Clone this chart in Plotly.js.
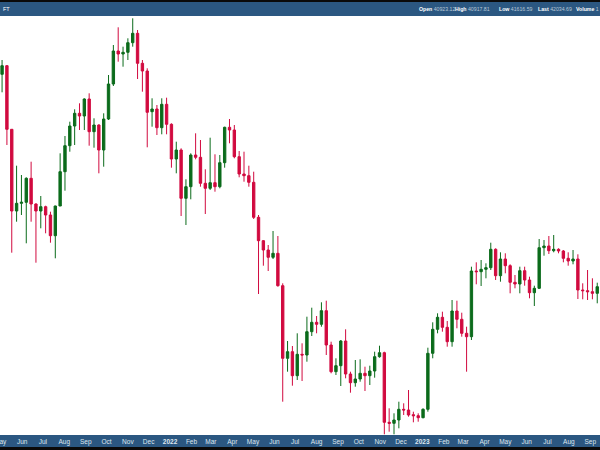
<!DOCTYPE html>
<html><head><meta charset="utf-8">
<script src="https://cdn.plot.ly/plotly-3.0.1.min.js"></script>
<style>html,body{margin:0;padding:0;background:#fff}#chart{width:600px;height:450px}</style>
</head><body><div id="chart"></div>
<script>
const weeks = [
"2021-05-03","2021-05-10","2021-05-17","2021-05-24","2021-05-31","2021-06-07","2021-06-14","2021-06-21","2021-06-28",
"2021-07-05","2021-07-12","2021-07-19","2021-07-26","2021-08-02","2021-08-09","2021-08-16","2021-08-23","2021-08-30",
"2021-09-06","2021-09-13","2021-09-20","2021-09-27","2021-10-04","2021-10-11","2021-10-18","2021-10-25",
"2021-11-01","2021-11-08","2021-11-15","2021-11-22","2021-11-29","2021-12-06","2021-12-13","2021-12-20","2021-12-27",
"2022-01-03","2022-01-10","2022-01-17","2022-01-24","2022-01-31","2022-02-07","2022-02-14","2022-02-21","2022-02-28",
"2022-03-07","2022-03-14","2022-03-21","2022-03-28","2022-04-04","2022-04-11","2022-04-18","2022-04-25",
"2022-05-02","2022-05-09","2022-05-16","2022-05-23","2022-05-30","2022-06-06","2022-06-13","2022-06-20","2022-06-27",
"2022-07-04","2022-07-11","2022-07-18","2022-07-25","2022-08-01","2022-08-08","2022-08-15","2022-08-22","2022-08-29",
"2022-09-05","2022-09-12","2022-09-19","2022-09-26","2022-10-03","2022-10-10","2022-10-17","2022-10-24","2022-10-31",
"2022-11-07","2022-11-14","2022-11-21","2022-11-28","2022-12-05","2022-12-12","2022-12-19","2022-12-26",
"2023-01-02","2023-01-09","2023-01-16","2023-01-23","2023-01-30","2023-02-06","2023-02-13","2023-02-20","2023-02-27",
"2023-03-06","2023-03-13","2023-03-20","2023-03-27","2023-04-03","2023-04-10","2023-04-17","2023-04-24",
"2023-05-01","2023-05-08","2023-05-15","2023-05-22","2023-05-29","2023-06-05","2023-06-12","2023-06-19","2023-06-26",
"2023-07-03","2023-07-10","2023-07-17","2023-07-24","2023-07-31","2023-08-07","2023-08-14","2023-08-21","2023-08-28",
"2023-09-04","2023-09-11"];

const openV = [3757,3843,3207,2390,2467,2477,2717,2460,2390,2433,2350,2143,2440,2783,3043,3240,3367,3340,3510,3183,
3250,3000,3310,3660,3990,3960,3977,4073,4167,3867,3790,3383,3410,3223,3457,3257,2910,3000,2517,2633,
2950,2927,2667,2617,2673,2633,2873,3227,3200,2933,2760,2743,2677,2327,2093,2000,1927,1967,1643,917,
983,743,957,950,1183,1277,1257,1393,1050,783,843,1090,760,673,710,767,743,790,933,973,
277,267,300,407,400,353,343,323,407,967,1207,1327,1227,1083,1390,1307,1167,1133,1790,1783,
1807,1823,2007,1743,1910,1843,1677,1660,1793,1700,1573,1617,2023,2040,1993,2007,1990,1917,1890,1910,
1600,1593,1583,1567];
const highV = [3900,3850,3210,2843,2750,2727,2883,2467,2540,2443,2383,2443,2967,3140,3283,3407,3467,3517,3567,3317,
3257,3367,3750,4050,4227,4033,4117,4317,4200,3900,3817,3517,3450,3517,3523,3267,3083,3017,2707,2967,
3167,3100,2807,3123,2957,2950,3233,3310,3250,2990,2983,2843,2783,2350,2100,2050,2190,2140,1667,1090,
1040,1167,1067,1333,1423,1340,1477,1493,1083,917,1100,1207,783,900,907,833,843,983,1043,983,
417,367,483,467,600,383,367,417,1023,1277,1367,1383,1290,1500,1493,1373,1233,1833,1877,1900,
1867,2073,2017,1977,1967,1857,1750,1833,1833,1733,1643,2110,2100,2140,2150,2017,2000,1977,2000,1957,
1667,1800,1717,1673];
const lowV = [3577,3050,1973,2283,2350,2067,2283,1873,2217,2167,2073,1917,2617,2593,2983,3050,3200,3200,3043,3023,
2767,2833,3300,3640,3883,3833,3900,4033,3710,3583,3027,3233,3150,3157,3157,2823,2767,2340,2250,2507,
2907,2633,2360,2600,2583,2617,2823,3067,2917,2727,2683,2633,2310,1560,1843,1790,1910,1633,483,783,
643,700,690,883,1140,1167,1233,950,767,750,640,717,573,633,683,590,650,723,923,157,
183,157,217,350,333,277,283,317,383,917,1167,1183,1033,1033,1217,1133,783,1100,1657,1640,
1717,1800,1700,1683,1767,1567,1617,1567,1643,1517,1440,1610,1943,1960,1977,1967,1877,1843,1857,1510,
1507,1500,1507,1467];
const closeV = [3843,3207,2390,2467,2477,2717,2460,2390,2433,2350,2143,2440,2783,3043,3240,3367,3340,3510,3183,3250,
3000,3310,3660,3990,3960,3977,4073,4167,3867,3790,3377,3410,3223,3457,3257,2910,3000,2517,2633,2950,
2927,2667,2617,2673,2633,2873,3227,3200,2933,2760,2743,2677,2327,2093,2000,1927,1967,1643,917,983,
743,957,950,1183,1277,1257,1393,1050,783,843,1090,760,673,710,767,743,790,933,973,277,
267,300,407,400,350,343,323,407,967,1207,1327,1227,1083,1390,1307,1167,1133,1790,1783,1807,
1823,2007,1743,1910,1843,1677,1660,1793,1700,1573,1617,2023,2040,1993,2007,1990,1917,1890,1910,1600,
1593,1583,1567,1633];

const tickDates = ["2021-06-01","2021-07-01","2021-08-01","2021-09-01","2021-10-01","2021-11-01","2021-12-01",
"2022-01-01","2022-02-01","2022-03-01","2022-04-01","2022-05-01","2022-06-01","2022-07-01","2022-08-01","2022-09-01",
"2022-10-01","2022-11-01","2022-12-01","2023-01-01","2023-02-01","2023-03-01","2023-04-01","2023-05-01","2023-06-01",
"2023-07-01","2023-08-01","2023-09-01"];
const tickLabels = ["Jun","Jul","Aug","Sep","Oct","Nov","Dec","<b>2022</b>","Feb","Mar","Apr","May","Jun","Jul","Aug","Sep",
"Oct","Nov","Dec","<b>2023</b>","Feb","Mar","Apr","May","Jun","Jul","Aug","Sep"];
const edgeLabel = "May";

const headerLabels = ["Open","High","Low","Last","Volume"];
const headerValues = ["40923.12","40917.81","41616.59","42034.69","1"];
const headerX = [417,453,497,536,574];

const FONT = "Liberation Sans, Arial, sans-serif";
const GREEN = "#0b6b1b", RED = "#d10a3f", BLUE = "#2b5781";
const trace = {
  type: "candlestick", x: weeks, open: openV, high: highV, low: lowV, close: closeV,
  increasing: {line: {color: GREEN, width: 1}, fillcolor: GREEN},
  decreasing: {line: {color: RED, width: 1}, fillcolor: RED},
  whiskerwidth: 0, hoverinfo: "skip"
};
const PH = 419;
const py = px => (435 - px) / PH;
const annotations = headerLabels.map((l, i) => ({
  xref: "paper", yref: "paper", x: headerX[i] / 600, y: py(8.5), xanchor: "left", yanchor: "middle",
  showarrow: false, text: "<b>" + l + "</b> <span style='color:#b9c8d8'>" + headerValues[i] + "</span>",
  font: {family: FONT, size: 5.2, color: "#ffffff"}
}));
annotations.push({xref: "paper", yref: "paper", x: 0.002, y: py(8.5), xanchor: "left", yanchor: "middle",
  showarrow: false, text: "FT", font: {family: FONT, size: 5.5, color: "#ffffff"}});
annotations.push({xref: "paper", yref: "paper", x: 0, y: py(441.5), xanchor: "center", yanchor: "middle",
  showarrow: false, text: edgeLabel, font: {family: FONT, size: 6.5, color: "#dfe7ef"}});

const layout = {
  width: 600, height: 450, margin: {l: 0, r: 0, t: 16, b: 15},
  paper_bgcolor: BLUE, plot_bgcolor: "#ffffff", showlegend: false,
  xaxis: {type: "date", range: ["2021-04-30", "2023-09-15"], rangeslider: {visible: false},
    tickmode: "array", tickvals: tickDates, ticktext: tickLabels, showgrid: false, zeroline: false,
    ticks: "", ticklabelstandoff: 1, fixedrange: true,
    tickfont: {family: FONT, size: 6.5, color: "#dfe7ef"}},
  yaxis: {range: [150, 4340], visible: false, fixedrange: true},
  shapes: [
    {type: "rect", xref: "paper", yref: "paper", x0: 0, x1: 1, y0: py(2), y1: py(-1), fillcolor: "#0a0a0a", line: {width: 0}},
    {type: "rect", xref: "paper", yref: "paper", x0: 0, x1: 1, y0: py(451), y1: py(447), fillcolor: "#0a0a0a", line: {width: 0}}
  ],
  annotations: annotations
};
Plotly.newPlot("chart", [trace], layout, {displayModeBar: false, staticPlot: true});
</script></body></html>
